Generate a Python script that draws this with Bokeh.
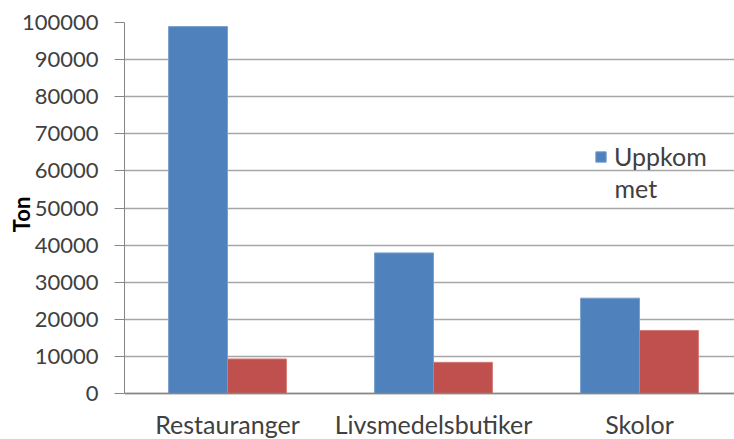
from bokeh.plotting import figure
from bokeh.models import (Range1d, FixedTicker, Label, LabelSet, Legend, LegendItem,
                          ColumnDataSource, NumeralTickFormatter, Span)
from bokeh.core.properties import value
from bokeh.transform import dodge
from bokeh.embed import file_html
from bokeh.resources import INLINE

# ---- data ----
categories = ["Restauranger", "Livsmedelsbutiker", "Skolor"]
uppkommet = [98900, 37900, 25700]
andra_serien = [9300, 8400, 17000]
y_ticks = [0, 10000, 20000, 30000, 40000, 50000, 60000, 70000, 80000, 90000, 100000]
legend_label = "Uppkom"
legend_label_wrap = "met"
y_title = "Ton"

FONT = "Lato"
TXT = "#404040"
GRID = "#a6a6a6"
AXIS = "#868686"
BLUE = "#4F81BD"
RED = "#C0504D"

# layout (pixels): plot area 124..734 x 22..393, category labels below inside frame
FRAME_TOP, ZERO_Y, FIG_H = 22, 393, 439
ymax = y_ticks[-1]
ymin = -ymax * (FIG_H - ZERO_Y) / (ZERO_Y - FRAME_TOP)

xpos = [i + 0.5 for i in range(len(categories))]
source = ColumnDataSource(dict(x=xpos, uppkommet=uppkommet, andra=andra_serien,
                               cat=categories, zero=[0] * len(categories)))

p = figure(width=734, height=FIG_H, output_backend="svg", toolbar_location=None,
           x_range=Range1d(0, 610 / 206), y_range=Range1d(ymin, ymax),
           min_border_left=124, min_border_right=0, min_border_top=FRAME_TOP,
           min_border_bottom=0)
p.outline_line_color = None
p.background_fill_color = "white"
p.border_fill_color = "white"

bw = 0.286
r_blue = p.vbar(x=dodge("x", -bw / 2), top="uppkommet", width=bw, source=source,
                fill_color=BLUE, line_color="#7BA0CF", line_width=1)
r_red = p.vbar(x=dodge("x", bw / 2), top="andra", width=bw, source=source,
               fill_color=RED, line_color="#D27976", line_width=1)

# grid
p.xgrid.visible = False
p.ygrid.ticker = FixedTicker(ticks=y_ticks)
p.ygrid.grid_line_color = GRID
p.ygrid.grid_line_width = 1.5

# y axis
p.yaxis.ticker = FixedTicker(ticks=y_ticks)
p.yaxis.bounds = (0, ymax)
p.yaxis.formatter = NumeralTickFormatter(format="0")
p.yaxis.axis_line_color = AXIS
p.yaxis.major_tick_line_color = AXIS
p.yaxis.major_tick_out = 10
p.yaxis.major_tick_in = 0
p.yaxis.minor_tick_line_color = None
p.yaxis.major_label_standoff = 16
p.yaxis.major_label_text_font = FONT
p.yaxis.major_label_text_font_size = "22px"
p.yaxis.major_label_text_color = TXT
# two em-spaces before the title lift it to the middle of the 0..100000 span
p.yaxis.axis_label = "\u2003\u2003" + y_title
p.yaxis.axis_label_text_font = FONT
p.yaxis.axis_label_text_font_size = "22px"
p.yaxis.axis_label_text_font_style = "bold"
p.yaxis.axis_label_text_color = "black"
p.yaxis.axis_label_standoff = -16

# x axis: baseline + category names
p.xaxis.visible = False
p.add_layout(Span(location=0, dimension="width", line_color=AXIS, line_width=1.5))
p.add_layout(LabelSet(x="x", y="zero", text="cat", source=source,
                      y_offset=-40, text_align="center",
                      text_baseline="alphabetic", text_font=value(FONT),
                      text_font_size="25px", text_color=TXT))

# legend
legend = Legend(items=[LegendItem(label=legend_label, renderers=[r_blue])],
                location=(470, 222 + (FIG_H - ZERO_Y)), padding=0, margin=0, spacing=0,
                glyph_width=13, glyph_height=13, label_standoff=7,
                label_text_font=FONT, label_text_font_size="25px",
                label_text_color=TXT, border_line_color=None,
                background_fill_alpha=0)
p.add_layout(legend)
p.add_layout(Label(x=490, y=206 + (FIG_H - ZERO_Y), x_units="screen", y_units="screen",
                   text=legend_label_wrap, text_align="left",
                   text_baseline="middle", text_font=FONT,
                   text_font_size="25px", text_color=TXT))

open("out.html", "w").write(file_html(p, INLINE))
